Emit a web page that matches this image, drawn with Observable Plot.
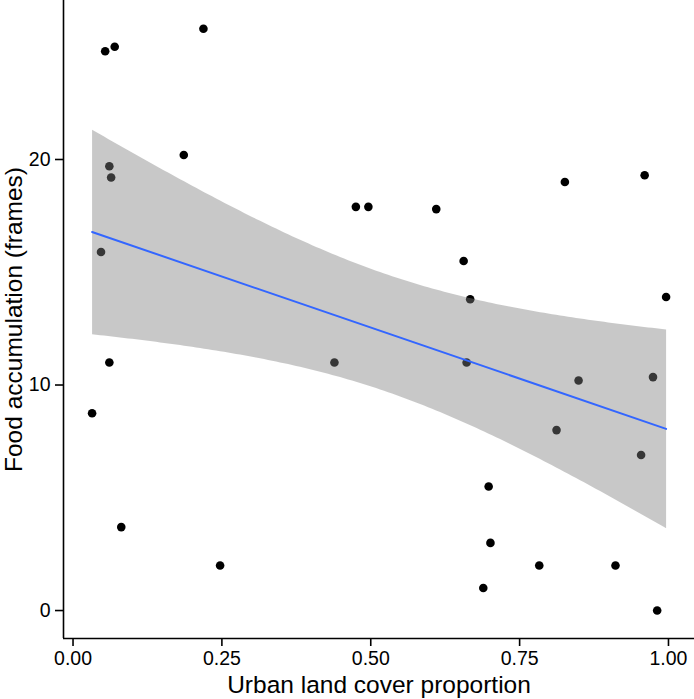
<!DOCTYPE html>
<html>
<head>
<meta charset="utf-8">
<script src="https://cdn.jsdelivr.net/npm/d3@7"></script>
<script src="https://cdn.jsdelivr.net/npm/@observablehq/plot@0.6"></script>
<style>
  html, body { margin: 0; padding: 0; background: #fff; }
  #chart svg { display: block; }
</style>
</head>
<body>
<div id="chart"></div>
<script>
// Urban land cover proportion (x) and food accumulation in frames (y)
const urbanCover = [
  0.054, 0.070, 0.219, 0.186, 0.061, 0.064, 0.047, 0.061, 0.032, 0.081, 0.247,
  0.439, 0.475, 0.496, 0.610, 0.656, 0.667, 0.996, 0.826, 0.960,
  0.661, 0.849, 0.974, 0.812, 0.954, 0.698, 0.701, 0.783, 0.911, 0.689, 0.981
];
const foodFrames = [
  24.8, 25.0, 25.8, 20.2, 19.7, 19.2, 15.9, 11.0, 8.75, 3.7, 2.0,
  11.0, 17.9, 17.9, 17.8, 15.5, 13.8, 13.9, 19.0, 19.3,
  11.0, 10.2, 10.35, 8.0, 6.9, 5.5, 3.0, 2.0, 2.0, 1.0, 0.0
];
const xTicks = [0, 0.25, 0.5, 0.75, 1.0];
const yTicks = [0, 10, 20];
const xTitle = "Urban land cover proportion";
const yTitle = "Food accumulation (frames)";

const data = urbanCover.map((x, i) => ({x, y: foodFrames[i]}));
const xDomain = [-0.016, 1.0437];
const yDomain = [-1.24, 27.05];
const font = "'Liberation Sans', Arial, Helvetica, sans-serif";

const chart = Plot.plot({
  width: 694,
  height: 699,
  marginLeft: 63,
  marginRight: 0,
  marginTop: 0,
  marginBottom: 61,
  style: {fontFamily: font, background: "#fff", color: "#000"},
  x: {domain: xDomain},
  y: {domain: yDomain},
  marks: [
    Plot.dot(data, {x: "x", y: "y", r: 4.3, fill: "#000", stroke: "none"}),
    Plot.linearRegressionY(data, {
      x: "x", y: "y",
      stroke: "#3366FF", strokeWidth: 2,
      fill: "#808080", fillOpacity: 0.43
    }),
    Plot.ruleX([xDomain[0]], {stroke: "#000", strokeWidth: 1.6}),
    Plot.ruleY([yDomain[0]], {stroke: "#000", strokeWidth: 1.6}),
    Plot.axisX({
      ticks: xTicks, tickFormat: d3.format(".2f"), tickSize: 8, tickPadding: 5,
      fontSize: 19.5, label: null, stroke: "#000", strokeWidth: 1.6, fill: "#000"
    }),
    Plot.axisY({
      ticks: yTicks, tickSize: 8, tickPadding: 5,
      fontSize: 19.5, label: null, stroke: "#000", strokeWidth: 1.6, fill: "#000"
    }),
    Plot.text([xTitle], {
      frameAnchor: "bottom", textAnchor: "middle", lineAnchor: "middle",
      dy: 47, fontSize: 24.5, fill: "#000"
    }),
    Plot.text([yTitle], {
      frameAnchor: "left", textAnchor: "middle", lineAnchor: "middle",
      rotate: -90, dx: -49.5, fontSize: 24.5, fill: "#000"
    })
  ]
});
document.getElementById("chart").appendChild(chart);
</script>
</body>
</html>
